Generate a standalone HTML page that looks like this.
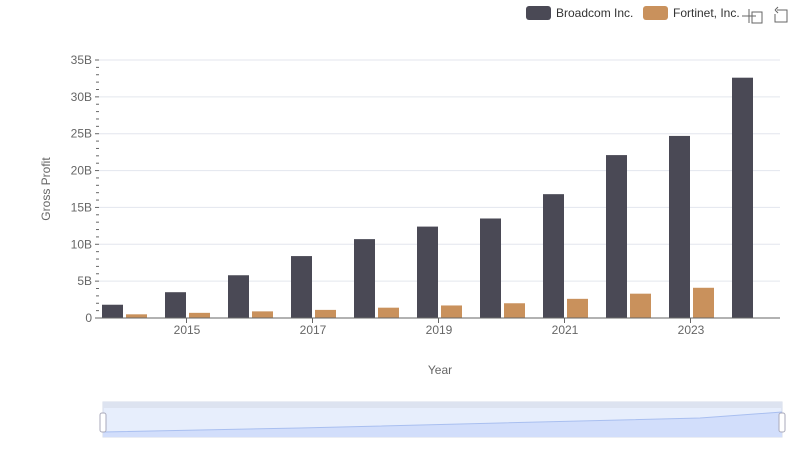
<!DOCTYPE html>
<html><head><meta charset="utf-8"><style>
body{margin:0;background:#fff;font-family:"Liberation Sans",sans-serif;}
svg text{font-family:"Liberation Sans",sans-serif;}
</style></head><body>
<svg id="c" width="800" height="461">
<g>
 <g><rect x="526" y="6" width="25" height="14" rx="3" fill="#4a4955"/><text x="556" y="17" font-size="12" fill="#333">Broadcom Inc.</text></g>
 <g><rect x="643" y="6" width="25" height="14" rx="3" fill="#c9915c"/><text x="673" y="17" font-size="12" fill="#333">Fortinet, Inc.</text></g>
 <g stroke="#666" fill="none"><path d="M749 9v14M742 16h14M752 12h10v11h-10z"/></g>
 <g stroke="#666" fill="none"><path d="M777 10h10v12h-12v-8M775 10l3-3M775 10l3 3"/></g>
</g>
<g id="grid"></g><g id="bars"></g><g id="axes"></g>
<text x="50" y="189" font-size="12" fill="#666" transform="rotate(-90 50 189)" text-anchor="middle">Gross Profit</text>
<text x="440" y="374" font-size="12" fill="#666" text-anchor="middle">Year</text>
<g>
 <rect x="103" y="402" width="679" height="35" fill="#e7eefc" stroke="#d5dbe8"/>
 <rect x="103" y="402" width="679" height="6" fill="#dde3f0"/>
 <path d="M103 432 L300 428 L500 423 L700 418 L782 412 L782 437 L103 437Z" fill="#d2defb"/>
 <path d="M103 432 L300 428 L500 423 L700 418 L782 412" stroke="#a9bff0" fill="none"/>
 <rect x="100" y="413" width="6" height="19" rx="2" fill="#fff" stroke="#aab"/>
 <rect x="779" y="413" width="6" height="19" rx="2" fill="#fff" stroke="#aab"/>
</g>
</svg>
<script>
const years=["2014","2015","2016","2017","2018","2019","2020","2021","2022","2023","2024"];
const broadcom=[1.8,3.5,5.8,8.4,10.7,12.4,13.5,16.8,22.1,24.7,32.6];
const fortinet=[0.5,0.7,0.9,1.1,1.4,1.7,2.0,2.6,3.3,4.1,null];
const yTicks=[0,5,10,15,20,25,30,35];
const yTickLabels=["0","5B","10B","15B","20B","25B","30B","35B"];
const NS="http://www.w3.org/2000/svg";
const y0=318,yTop=60,yMax=35,xL=99,xR=780,band=63,c0=124;
const Y=v=>y0-(v/yMax)*(y0-yTop);
const X=i=>c0+band*i;
function mk(p,t,a){const e=document.createElementNS(NS,t);for(const k in a)e.setAttribute(k,a[k]);p.appendChild(e);return e;}
const grid=document.getElementById('grid'),bars=document.getElementById('bars'),axes=document.getElementById('axes');
yTicks.forEach((v,i)=>{
 if(v>0){const l=mk(grid,'line',{x1:xL,x2:xR,y1:Y(v),y2:Y(v),stroke:'#e3e6ee'});
 
 }
 const t=mk(axes,'text',{x:92,y:Y(v)+4,'font-size':12,fill:'#666','text-anchor':'end'});t.textContent=yTickLabels[i];
 
 
 for(let k=1;k<5&&i<yTicks.length-1;k++){mk(axes,'line',{x1:96,x2:99,y1:Y(v+k),y2:Y(v+k),stroke:'#666'});}
 mk(axes,'line',{x1:95,x2:99,y1:Y(v),y2:Y(v),stroke:'#666'});
});
years.forEach((yr,i)=>{
 const b=broadcom[i];
 if(b!=null){const r=mk(bars,'rect',{x:X(i)-22,y:Y(b),width:21,height:y0-Y(b),fill:'#4a4955'});
 
 }
 const f=fortinet[i];
 if(f!=null){const r=mk(bars,'rect',{x:X(i)+2,y:Y(f),width:21,height:y0-Y(f),fill:'#c9915c'});
 
 }
 if(i%2==1){mk(axes,'line',{x1:X(i)-0.5,x2:X(i)-0.5,y1:y0,y2:y0+5,stroke:'#666'});
 const t=mk(axes,'text',{x:X(i),y:y0+16,'font-size':12,fill:'#666','text-anchor':'middle'});t.textContent=yr;
 
 }
});
const ax=mk(axes,'line',{x1:xL,x2:xR,y1:y0,y2:y0,stroke:'#666'});


</script>
</body></html>
